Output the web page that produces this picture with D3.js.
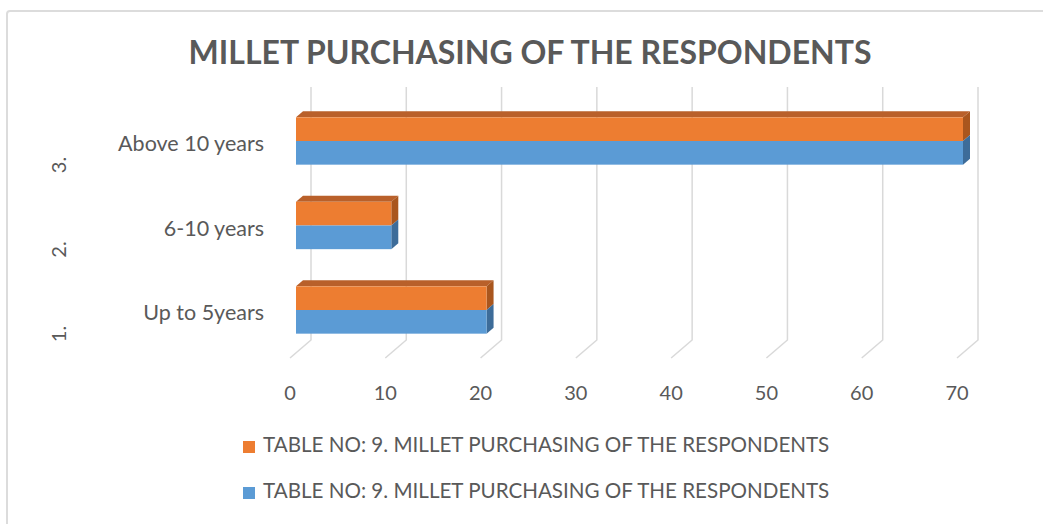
<!DOCTYPE html>
<html>
<head>
<meta charset="utf-8">
<script src="https://cdn.jsdelivr.net/npm/d3@7"></script>
<style>
  body { margin: 0; background: #fff; }
  text { font-family: Lato, "Open Sans", sans-serif; fill: #595959; }
</style>
</head>
<body>
<svg id="chart"></svg>
<script>
// data
const categories = ["Up to 5years", "6-10 years", "Above 10 years"];
const groups = ["1.", "2.", "3."];
const seriesNames = [
  "TABLE NO: 9. MILLET PURCHASING OF THE RESPONDENTS",
  "TABLE NO: 9. MILLET PURCHASING OF THE RESPONDENTS"
];
const seriesA = [20, 10, 70];
const seriesB = [20, 10, 70];
const tickValues = [0, 10, 20, 30, 40, 50, 60, 70];

const w = 1043;
const h = 524;
const colors = ["#ED7D31", "#5B9BD5"];
const topColors = ["#B9602A", "#4A7EB0"];
const sideColors = ["#A9561E", "#3D6C99"];

const svg = d3.select("#chart").attr("width", w).attr("height", h);

svg.append("rect")
  .attr("x", 7).attr("y", 11)
  .attr("width", w + 20).attr("height", h + 20)
  .attr("rx", 3)
  .attr("fill", "#fff")
  .attr("stroke", "#dcdcdc")
  .attr("stroke-width", 2);

svg.append("text")
  .attr("x", 530).attr("y", 56)
  .attr("text-anchor", "middle")
  .attr("dominant-baseline", "middle")
  .style("font-size", "32px")
  .style("font-weight", "bold")
  .text("MILLET PURCHASING OF THE RESPONDENTS");

// front floor edge scale, depth goes back-right
const x = d3.scaleLinear().domain([0, 70]).range([290, 957]);
const depth = { dx: 21, dy: -18 };
const floorFront = 358;
const gridTop = 87;

const y = d3.scaleBand()
  .domain(categories.slice().reverse())
  .range([98.75, 352.25])
  .paddingInner(0.44)
  .paddingOuter(0.22);

// gridlines on back wall + floor
const grid = svg.append("g").attr("stroke", "#d9d9d9").attr("stroke-width", 1.5).attr("fill", "none");
tickValues.forEach((t) => {
  grid.append("path")
    .attr("d", `M${x(t) + depth.dx},${gridTop}V${floorFront + depth.dy}L${x(t)},${floorFront}`);
});

svg.append("g")
  .selectAll("text")
  .data(tickValues)
  .enter()
  .append("text")
  .attr("x", (d) => x(d))
  .attr("y", 395)
  .attr("text-anchor", "middle")
  .attr("dominant-baseline", "middle")
  .style("font-size", "20px")
  .text((d) => d);

// bars: front face sits a bit inside the floor depth
const barShift = 6;
const barDepth = { dx: 7, dy: -6 };
const series = [seriesA, seriesB];
const half = y.bandwidth() / 2;

categories.forEach((c, i) => {
  series.forEach((vals, s) => {
    const x0 = x(0) + barShift;
    const x1 = x(vals[i]) + barShift;
    const y0 = y(c) + s * half;
    const y1 = y0 + half;
    const g = svg.append("g");
    if (s === 0) {
      g.append("path")
        .attr("d", `M${x0},${y0}L${x0 + barDepth.dx},${y0 + barDepth.dy}L${x1 + barDepth.dx},${y0 + barDepth.dy}L${x1},${y0}Z`)
        .attr("fill", topColors[s]);
    }
    g.append("path")
      .attr("d", `M${x1},${y0}L${x1 + barDepth.dx},${y0 + barDepth.dy}L${x1 + barDepth.dx},${y1 + barDepth.dy}L${x1},${y1}Z`)
      .attr("fill", sideColors[s]);
    g.append("rect")
      .attr("x", x0).attr("y", y0)
      .attr("width", x1 - x0).attr("height", half)
      .attr("fill", colors[s]);
  });
});

// category labels
svg.append("g")
  .selectAll("text")
  .data(categories)
  .enter()
  .append("text")
  .attr("x", 264)
  .attr("y", (d) => y(d) + y.bandwidth() / 2 + 5)
  .attr("text-anchor", "end")
  .attr("dominant-baseline", "middle")
  .style("font-size", "21.5px")
  .text((d) => d);

// outer group labels, rotated
svg.append("g")
  .selectAll("text")
  .data(groups)
  .enter()
  .append("text")
  .attr("transform", (d, i) => `translate(61,${y(categories[i]) + y.bandwidth() / 2 + 24}) rotate(-90)`)
  .attr("text-anchor", "middle")
  .attr("dominant-baseline", "middle")
  .style("font-size", "20px")
  .text((d) => d);

// legend
const legend = svg.append("g");
seriesNames.forEach((name, i) => {
  const ly = 447 + i * 46;
  legend.append("rect")
    .attr("x", 243).attr("y", ly - 6)
    .attr("width", 12).attr("height", 12)
    .attr("fill", colors[i]);
  legend.append("text")
    .attr("x", 263).attr("y", ly)
    .attr("dominant-baseline", "middle")
    .style("font-size", "20.6px")
    .text(name);
});
</script>
</body>
</html>
